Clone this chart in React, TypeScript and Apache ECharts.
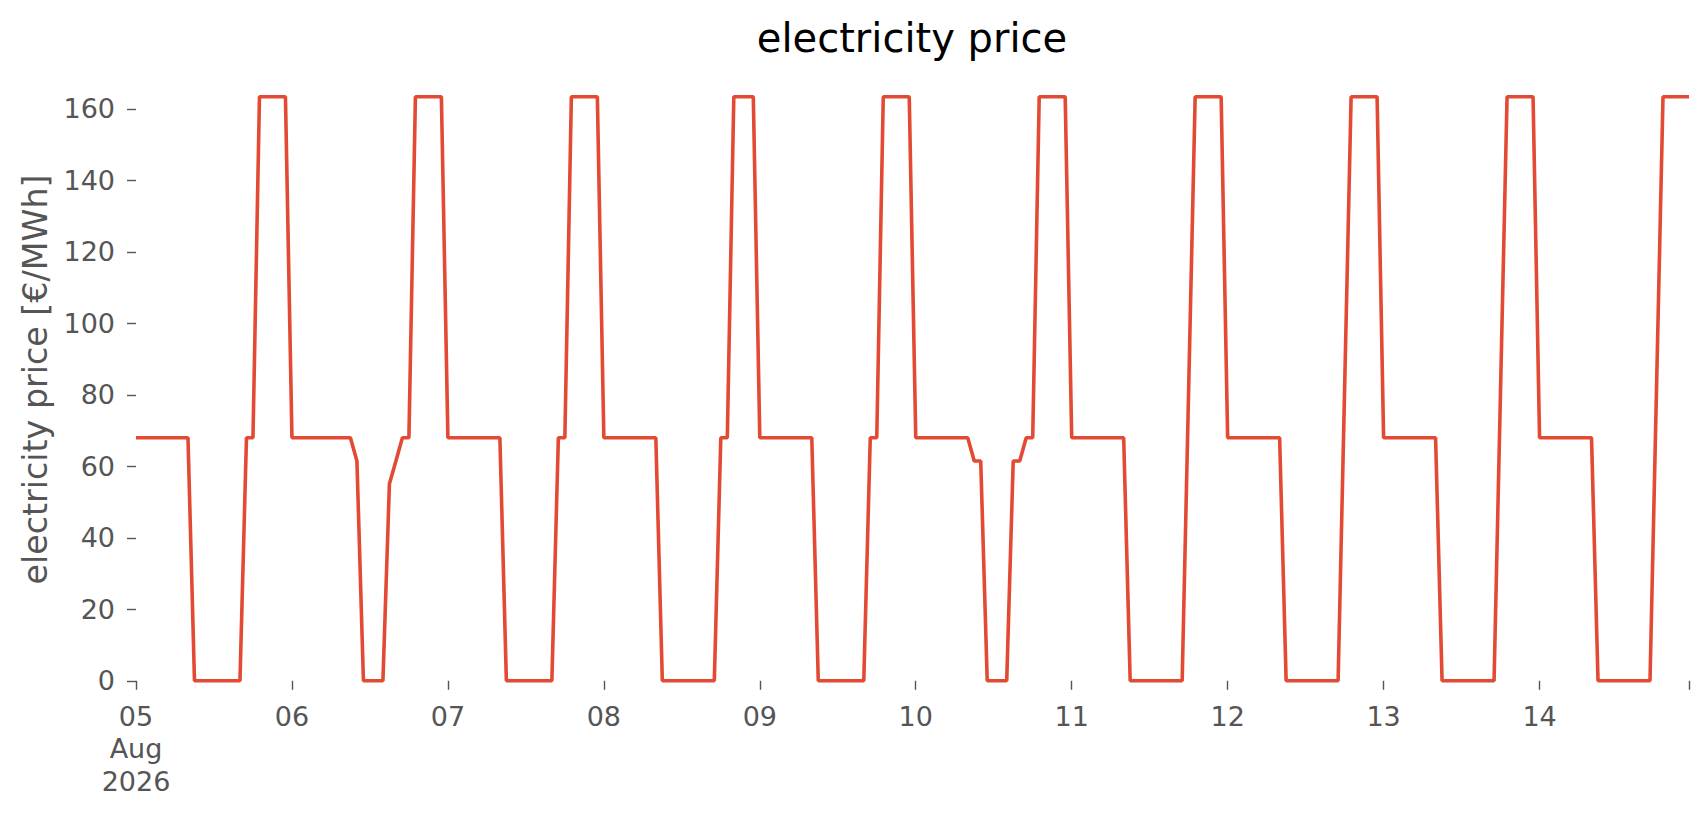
import React, { useEffect, useRef } from "react";
import * as echarts from "echarts";

// Hourly electricity price [€/MWh], one array per day (hours 00..23)
const day05 = [68, 68, 68, 68, 68, 68, 68, 68, 68, 0, 0, 0, 0, 0, 0, 0, 0, 68, 68, 163.4, 163.4, 163.4, 163.4, 163.4];
const day06 = [68, 68, 68, 68, 68, 68, 68, 68, 68, 68, 61.5, 0, 0, 0, 0, 55.1, 61.5, 68, 68, 163.4, 163.4, 163.4, 163.4, 163.4];
const day07 = [68, 68, 68, 68, 68, 68, 68, 68, 68, 0, 0, 0, 0, 0, 0, 0, 0, 68, 68, 163.4, 163.4, 163.4, 163.4, 163.4];
const day08 = [68, 68, 68, 68, 68, 68, 68, 68, 68, 0, 0, 0, 0, 0, 0, 0, 0, 0, 68, 68, 163.4, 163.4, 163.4, 163.4];
const day09 = [68, 68, 68, 68, 68, 68, 68, 68, 68, 0, 0, 0, 0, 0, 0, 0, 0, 68, 68, 163.4, 163.4, 163.4, 163.4, 163.4];
const day10 = [68, 68, 68, 68, 68, 68, 68, 68, 68, 61.5, 61.5, 0, 0, 0, 0, 61.5, 61.5, 68, 68, 163.4, 163.4, 163.4, 163.4, 163.4];
const day11 = [68, 68, 68, 68, 68, 68, 68, 68, 68, 0, 0, 0, 0, 0, 0, 0, 0, 0, 81.7, 163.4, 163.4, 163.4, 163.4, 163.4];
const day12 = [68, 68, 68, 68, 68, 68, 68, 68, 68, 0, 0, 0, 0, 0, 0, 0, 0, 0, 81.7, 163.4, 163.4, 163.4, 163.4, 163.4];
const day13 = [68, 68, 68, 68, 68, 68, 68, 68, 68, 0, 0, 0, 0, 0, 0, 0, 0, 0, 81.7, 163.4, 163.4, 163.4, 163.4, 163.4];
const day14 = [68, 68, 68, 68, 68, 68, 68, 68, 68, 0, 0, 0, 0, 0, 0, 0, 0, 0, 81.7, 163.4, 163.4, 163.4, 163.4, 163.4];

const dailyPrices = [day05, day06, day07, day08, day09, day10, day11, day12, day13, day14];

const START = Date.UTC(2026, 7, 5, 0, 0, 0);
const HOUR = 3600 * 1000;
const DAY = 24 * HOUR;
const END = START + (dailyPrices.length * 24 - 1) * HOUR;

const yTicks = [0, 20, 40, 60, 80, 100, 120, 140, 160];

const FONT = "DejaVu Sans";

export default function App() {
  const ref = useRef<HTMLDivElement>(null);

  useEffect(() => {
    document.body.style.margin = "0";
    if (!ref.current) return;
    const chart = echarts.init(ref.current, null, { renderer: "svg" });

    const data: [number, number][] = [];
    dailyPrices.forEach((vals, d) => {
      vals.forEach((v, h) => {
        data.push([START + (d * 24 + h) * HOUR, v]);
      });
    });

    chart.setOption({
      animation: false,
      backgroundColor: "#ffffff",
      title: {
        text: "electricity price",
        left: 907,
        textAlign: "center",
        top: 13,
        textStyle: {
          fontFamily: FONT,
          fontSize: 40,
          fontWeight: "normal",
          color: "#000000",
        },
      },
      grid: {
        left: 136,
        right: 17,
        top: 75,
        bottom: 131,
        containLabel: false,
      },
      xAxis: {
        type: "value",
        min: START,
        max: END,
        interval: DAY,
        axisLine: { show: false },
        splitLine: { show: false },
        axisTick: {
          show: true,
          length: 9,
          lineStyle: { color: "#555555", width: 1.4 },
        },
        axisLabel: {
          color: "#555555",
          fontFamily: FONT,
          fontSize: 27,
          lineHeight: 32.5,
          margin: 16,
          showMinLabel: true,
          showMaxLabel: true,
          formatter: (value: number) => {
            const dt = new Date(value);
            if (dt.getUTCHours() !== 0) return "";
            const dd = String(dt.getUTCDate()).padStart(2, "0");
            if (value === START) return dd + "\nAug\n2026";
            return dd;
          },
        },
      },
      yAxis: {
        type: "value",
        min: -0.9,
        max: 169.5,
        name: "electricity price [€/MWh]",
        nameLocation: "middle",
        nameRotate: 90,
        nameGap: 84,
        nameTextStyle: {
          fontFamily: FONT,
          fontSize: 33.3,
          color: "#555555",
        },
        axisLine: { show: false },
        splitLine: { show: false },
        axisTick: {
          show: true,
          length: 9,
          customValues: yTicks,
          lineStyle: { color: "#555555", width: 1.4 },
        },
        axisLabel: {
          customValues: yTicks,
          color: "#555555",
          fontFamily: FONT,
          fontSize: 27,
          margin: 21,
        },
      },
      series: [
        {
          type: "line",
          data,
          showSymbol: false,
          symbol: "none",
          clip: false,
          lineStyle: { color: "#E24A33", width: 3.6 },
          itemStyle: { color: "#E24A33" },
        },
      ],
    });

    return () => {
      chart.dispose();
    };
  }, []);

  return (
    <div
      ref={ref}
      style={{ position: "absolute", left: 0, top: 0, width: 1706, height: 815, background: "#ffffff" }}
    />
  );
}
